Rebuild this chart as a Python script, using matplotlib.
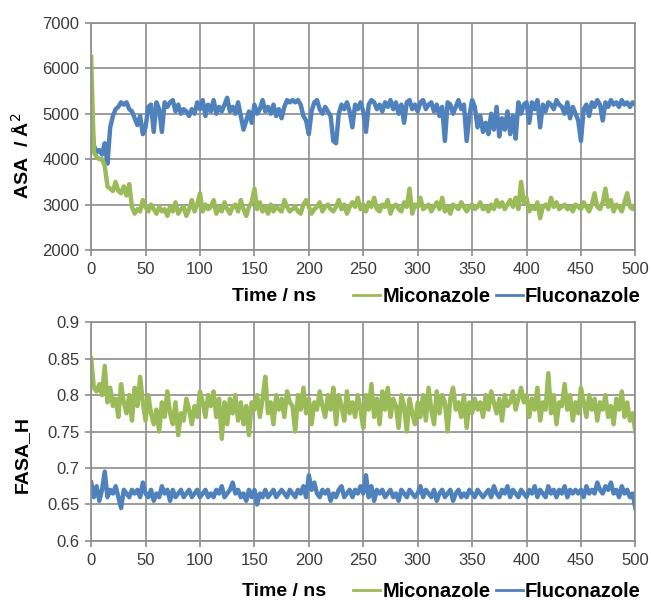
import numpy as np
import matplotlib.pyplot as plt
from matplotlib.lines import Line2D

plt.rcParams['font.family'] = ['Liberation Sans', 'DejaVu Sans']

# time axis, 2.5 ns sampling
time_ns = np.arange(0, 500.1, 2.5)

# ASA / A^2, Fluconazole (blue)
flu_asa = [
    4950, 4300, 4150, 4200, 4100, 4350, 3900, 4700, 4950, 5100, 5150, 5250, 5200, 5250, 5100, 5050, 4900, 4750, 4950, 4550,
    4700, 5150, 5200, 4600, 5250, 5100, 4600, 5250, 5150, 5250, 5300, 5050, 5200, 5000, 5100, 5050, 4950, 5100, 5000, 5250,
    5100, 5300, 4950, 5200, 5050, 5300, 5000, 5150, 5050, 5200, 5350, 5050, 5150, 5000, 5250, 4950, 4650, 4850, 5050, 4800,
    5200, 5000, 5100, 5300, 5050, 5150, 5000, 5200, 4950, 5100, 4900, 5150, 5300, 5250, 5300, 5250, 5300, 5200, 4950, 4850,
    4550, 5050, 5250, 5300, 5100, 5000, 5150, 5050, 4950, 4400, 4350, 5000, 5200, 5100, 5250, 5050, 4700, 5200, 5100, 5250,
    5050, 4600, 5200, 5300, 5250, 5100, 5200, 5050, 5250, 5150, 5300, 5100, 5250, 5000, 5200, 4800, 5250, 5300, 5100, 5200,
    5050, 5250, 5300, 5100, 5200, 5250, 5050, 5200, 4950, 5150, 4400, 5250, 5200, 5000, 5150, 5300, 5100, 5200, 4400, 4950,
    5300, 5150, 4700, 4950, 4600, 4800, 4550, 5000, 4650, 5150, 4500, 4900, 4650, 5050, 4550, 4950, 4450, 5250, 5000, 5200,
    5250, 4800, 5250, 5100, 5300, 4700, 5200, 5050, 5250, 5200, 5100, 5300, 5200, 5150, 5000, 5250, 4900, 5150, 5000, 4850,
    4400, 5100, 5200, 4950, 5250, 5150, 5300, 5200, 4850, 5250, 5150, 5300, 5200, 5250, 5150, 5300, 5200, 5250, 5150, 5250,
    5200,
]

# ASA / A^2, Miconazole (green)
mic_asa = [
    6250, 4150, 4050, 4000, 4000, 3850, 3400, 3350, 3300, 3500, 3300, 3250, 3400, 3200, 3450, 2950, 2800, 2900, 2850, 3100,
    2950, 2850, 3000, 2900, 2800, 2950, 2850, 2900, 2750, 2950, 2850, 3050, 2800, 2900, 2950, 2750, 2900, 3100, 2850, 3000,
    3250, 2850, 3000, 2900, 2950, 3100, 2800, 2950, 2850, 3050, 2900, 2800, 2950, 3000, 2850, 3100, 2900, 2750, 2950, 3050,
    3350, 2900, 3050, 2850, 2950, 2800, 3000, 2850, 2950, 2900, 2850, 3100, 2950, 2850, 2900, 2950, 2850, 2800, 3000, 3100,
    2950, 2800, 2900, 2950, 3050, 2850, 2950, 3000, 2900, 2850, 2950, 3100, 2900, 3000, 2800, 2950, 3050, 2950, 3150, 2900,
    3000, 2850, 3050, 2950, 3150, 2900, 2850, 3000, 2950, 3100, 2800, 2950, 3000, 2900, 2850, 3050, 2950, 3350, 2800, 3000,
    2950, 3150, 2900, 2950, 3000, 2850, 2950, 3050, 2900, 3150, 2850, 2950, 2800, 3000, 2950, 2900, 3050, 2950, 2850, 2950,
    3000, 2900, 2950, 3050, 2900, 2950, 2850, 3000, 2900, 3100, 2950, 3050, 2900, 3000, 3100, 2950, 3150, 2900, 3500, 3050,
    3150, 2850, 2950, 2900, 3050, 2700, 2950, 3000, 2900, 3150, 2950, 3050, 2900, 2950, 3000, 2900, 2950, 2850, 3000, 2950,
    2900, 3050, 2950, 2850, 3000, 3250, 2950, 2900, 3050, 3350, 2950, 3100, 2850, 3000, 2950, 2850, 3050, 3250, 2950, 2900,
    3000,
]

# FASA_H, Miconazole (green)
mic_fasa = [
    0.850, 0.810, 0.805, 0.815, 0.800, 0.840, 0.790, 0.810, 0.785, 0.795, 0.770, 0.815, 0.790, 0.775, 0.800, 0.765, 0.810, 0.785, 0.825, 0.790,
    0.765, 0.800, 0.775, 0.760, 0.780, 0.750, 0.790, 0.770, 0.805, 0.775, 0.760, 0.790, 0.745, 0.775, 0.765, 0.795, 0.780, 0.760, 0.785, 0.770,
    0.805, 0.790, 0.770, 0.800, 0.785, 0.805, 0.770, 0.795, 0.740, 0.790, 0.760, 0.795, 0.775, 0.800, 0.765, 0.790, 0.760, 0.785, 0.745, 0.790,
    0.780, 0.800, 0.770, 0.795, 0.825, 0.775, 0.790, 0.760, 0.800, 0.780, 0.795, 0.770, 0.805, 0.790, 0.785, 0.750, 0.800, 0.780, 0.810, 0.775,
    0.795, 0.760, 0.790, 0.780, 0.805, 0.785, 0.770, 0.800, 0.780, 0.810, 0.760, 0.800, 0.785, 0.765, 0.805, 0.775, 0.790, 0.770, 0.800, 0.780,
    0.755, 0.800, 0.780, 0.815, 0.770, 0.795, 0.760, 0.805, 0.780, 0.810, 0.770, 0.795, 0.785, 0.755, 0.800, 0.785, 0.750, 0.795, 0.775, 0.760,
    0.790, 0.770, 0.800, 0.765, 0.810, 0.780, 0.760, 0.805, 0.775, 0.800, 0.790, 0.750, 0.795, 0.810, 0.780, 0.790, 0.770, 0.800, 0.755, 0.790,
    0.775, 0.795, 0.780, 0.790, 0.770, 0.800, 0.780, 0.805, 0.790, 0.775, 0.795, 0.765, 0.800, 0.785, 0.790, 0.805, 0.780, 0.795, 0.810, 0.790,
    0.800, 0.770, 0.795, 0.780, 0.810, 0.765, 0.790, 0.780, 0.830, 0.775, 0.800, 0.760, 0.790, 0.785, 0.815, 0.780, 0.800, 0.765, 0.790, 0.775,
    0.810, 0.790, 0.770, 0.800, 0.780, 0.795, 0.765, 0.790, 0.780, 0.800, 0.770, 0.785, 0.760, 0.795, 0.780, 0.805, 0.770, 0.790, 0.765, 0.775,
    0.750,
]

# FASA_H, Fluconazole (blue)
flu_fasa = [
    0.680, 0.660, 0.675, 0.655, 0.670, 0.695, 0.660, 0.670, 0.665, 0.675, 0.660, 0.645, 0.670, 0.665, 0.660, 0.670, 0.665, 0.670, 0.660, 0.680,
    0.665, 0.660, 0.670, 0.655, 0.665, 0.660, 0.675, 0.665, 0.670, 0.655, 0.670, 0.660, 0.665, 0.670, 0.660, 0.665, 0.670, 0.660, 0.665, 0.670,
    0.660, 0.665, 0.670, 0.660, 0.665, 0.660, 0.670, 0.665, 0.675, 0.660, 0.665, 0.670, 0.680, 0.665, 0.670, 0.660, 0.665, 0.655, 0.670, 0.660,
    0.670, 0.650, 0.665, 0.660, 0.670, 0.660, 0.665, 0.670, 0.660, 0.665, 0.670, 0.665, 0.660, 0.670, 0.665, 0.660, 0.670, 0.665, 0.675, 0.660,
    0.690, 0.670, 0.680, 0.665, 0.660, 0.670, 0.665, 0.670, 0.655, 0.665, 0.660, 0.670, 0.675, 0.660, 0.665, 0.670, 0.660, 0.670, 0.665, 0.675,
    0.665, 0.690, 0.660, 0.675, 0.655, 0.670, 0.665, 0.670, 0.660, 0.665, 0.670, 0.660, 0.665, 0.655, 0.670, 0.665, 0.660, 0.670, 0.665, 0.660,
    0.665, 0.675, 0.660, 0.670, 0.665, 0.660, 0.670, 0.655, 0.665, 0.670, 0.660, 0.665, 0.670, 0.655, 0.665, 0.670, 0.660, 0.665, 0.660, 0.670,
    0.665, 0.660, 0.670, 0.665, 0.660, 0.665, 0.670, 0.660, 0.675, 0.665, 0.660, 0.670, 0.665, 0.675, 0.660, 0.670, 0.665, 0.660, 0.670, 0.665,
    0.660, 0.670, 0.665, 0.675, 0.660, 0.670, 0.665, 0.660, 0.675, 0.665, 0.670, 0.660, 0.670, 0.665, 0.675, 0.660, 0.670, 0.665, 0.670, 0.665,
    0.670, 0.660, 0.675, 0.665, 0.670, 0.665, 0.680, 0.670, 0.665, 0.675, 0.670, 0.680, 0.665, 0.670, 0.660, 0.675, 0.665, 0.670, 0.660, 0.665,
    0.645,
]

green = "#9bbb59"
blue = "#4f81bd"
grid_c = "#8c8c8c"

fig = plt.figure(figsize=(6.51, 6.01), dpi=100)
ax1 = fig.add_axes([0.140, 0.584, 0.836, 0.378])
ax2 = fig.add_axes([0.140, 0.100, 0.836, 0.364])


def style(ax, ylim, yticks, yfmt):
    ax.set_xlim(0, 500)
    ax.set_ylim(*ylim)
    ax.set_xticks(range(0, 501, 50))
    ax.set_yticks(yticks)
    ax.set_yticklabels([yfmt(v) for v in yticks])
    ax.grid(True, color=grid_c, linewidth=1.2)
    ax.set_axisbelow(True)
    for s in ax.spines.values():
        s.set_color(grid_c)
        s.set_linewidth(1.2)
    ax.tick_params(colors=grid_c, length=4.5, width=1.2, pad=4,
                   labelcolor="#3a3a3a", labelsize=12)


ax1.plot(time_ns, flu_asa, color=blue, lw=3.2)
ax1.plot(time_ns, mic_asa, color=green, lw=3.2)
style(ax1, (2000, 7000), [2000, 3000, 4000, 5000, 6000, 7000], lambda v: f"{v:d}")

ax2.plot(time_ns, mic_fasa, color=green, lw=3.2)
ax2.plot(time_ns, flu_fasa, color=blue, lw=3.2)
style(ax2, (0.6, 0.9), [0.6, 0.65, 0.7, 0.75, 0.8, 0.85, 0.9], lambda v: f"{v:g}")

# y axis titles
fig.text(0.034, 0.740, "ASA  / Å$^2$", rotation=90, ha="center", va="center",
         fontsize=14, fontweight="bold")
fig.text(0.034, 0.243, "FASA_H", rotation=90, ha="center", va="center",
         fontsize=14, fontweight="bold")

# x axis titles and legends below each panel
handles = [Line2D([], [], color=green, lw=2), Line2D([], [], color=blue, lw=2)]
for xpos, ypos in ((0.421, 0.506), (0.436, 0.016)):
    fig.text(xpos, ypos, "Time / ns", ha="center", va="center", fontsize=14, fontweight="bold")
    fig.legend(handles, ["Miconazole", "Fluconazole"], loc="center right",
               bbox_to_anchor=(0.984, ypos), ncol=2, frameon=False,
               borderpad=0, borderaxespad=0,
               handlelength=1.35, handletextpad=0.1, columnspacing=0.25,
               prop={"weight": "bold", "size": 14.5})

fig.savefig("out.png", dpi=100)
